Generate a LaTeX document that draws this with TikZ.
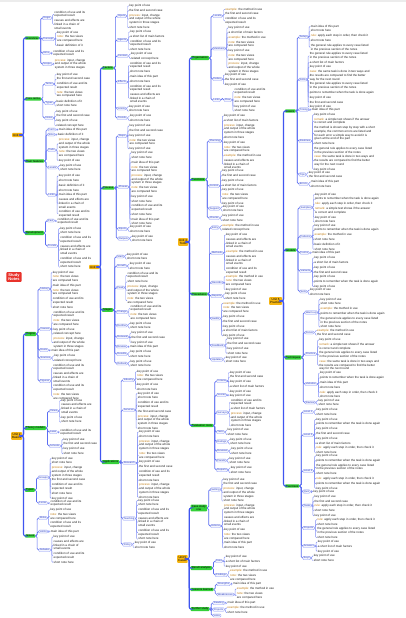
\documentclass[tikz,border=0pt]{standalone}
\usepackage{fontspec}
\setmainfont{Liberation Sans}
\definecolor{mmred}{HTML}{E8322B}
\definecolor{mmorange}{HTML}{F5B511}
\definecolor{mmgreen}{HTML}{35D03A}
\definecolor{mmblue}{HTML}{3F55F0}
\definecolor{mmtext}{HTML}{1E1E1E}
\definecolor{mmhl}{HTML}{C07A10}

% leaf phrases (odd / even lines)
\newcommand\mmta{key point of use}
\newcommand\mmtax{short note here}
\newcommand\mmtb{basic definition of it}
\newcommand\mmtbx{related concept here}
\newcommand\mmtc{main idea of this part}
\newcommand\mmtcx{the first and second case}
\newcommand\mmtd{\textcolor{mmhl}{example:} the method in use}
\newcommand\mmtdx{a short list of main factors}
\newcommand\mmth{\textcolor{mmhl}{rule:} apply each step in order, then check it}
\newcommand\mmthx{points to remember when the task is done again}
\newcommand\mmte{condition of use and its\\expected result}
\newcommand\mmtex{\textcolor{mmhl}{note:} the two views\\are compared here}
\newcommand\mmtf{\textcolor{mmhl}{process:} input, change\\and output of the whole\\system in three stages}
\newcommand\mmtfx{causes and effects are\\linked in a chain of\\small events}
\newcommand\mmtg{comparison of two methods\\with their strong points\\and their weak points\\in daily practice}
\newcommand\mmtgx{\textcolor{mmhl}{summary:} the key ideas\\of the unit, the terms\\and the worked examples\\for review}
\newcommand\mmtE{the general rule applies to every case listed\\in the previous section of the notes}
\newcommand\mmtEx{\textcolor{mmhl}{remark:} a simple test shows if the answer\\is correct and complete}
\newcommand\mmtF{each stage has its own aim, its own tools and\\its own way to measure the result, so the\\stages are planned one after the other}
\newcommand\mmtFx{\textcolor{mmhl}{case:} the same task is done in two ways and\\the results are compared to find the better\\way for the next round}
\newcommand\mmtG{the method is shown step by step with a short\\example, the common errors are listed and\\for each error a simple way to avoid it is\\given at the end of the part}
\newcommand\mmtGx{\textcolor{mmhl}{review:} the main terms, the rules and the\\worked examples of the unit are put together\\in one list that can be used before the test\\and again after it}

% ---- mind map helpers ------------------------------------------
\newcommand\mmgreen[4]{%
  \path (#1.east) ++(2.5,0) coordinate (#2-at);
  \node[subtopic] (#2) at (#2-at |- 0,#3) {#4};
  \draw[bough] (#1.east) -- ++(1.3,0) |- (#2.west);}
\newcommand\mmbox[4]{%
  \path (#1.east) ++(3,0) coordinate (#2-at);
  \node[itembox] (#2) at (#2-at |- 0,#3) {#4};
  \draw[limb] (#1.east) -- ++(1.5,0) |- (#2.west);}
\newcommand\mmleaves[3]{%
  \path (#1.east) ++(2.5,0) coordinate (#1-lx);
  \node[inner sep=0pt,minimum size=0pt,anchor=south west] (#1-0) at (#1-lx |- 0,#2) {};
  \foreach \kk [count=\i] in {#3} {
    \pgfmathtruncatemacro\j{\i-1}
    \node[leaf] (#1-\i) at (#1-\j.south west)
      {\strut\csname mmt\kk\ifodd\i\space\else x\fi\endcsname\strut};
    \draw[twig] (#1.east) -- ++(1.2,0) |- (#1-\i.west);
  }}

\begin{document}
\begin{tikzpicture}[x=1pt,y=-1pt,
  rootnode/.style={fill=mmred,text=white,font=\fontsize{4}{4.6}\selectfont\bfseries,
                   inner xsep=2pt,inner ysep=1.2pt,align=center,rounded corners=1pt},
  topic/.style={fill=mmorange,anchor=west,font=\fontsize{3}{3.5}\selectfont,
                inner sep=1pt,align=center,rounded corners=0.8pt},
  subtopic/.style={fill=mmgreen,anchor=west,font=\fontsize{2.8}{3.3}\selectfont,
                   inner xsep=1.2pt,inner ysep=0.7pt,align=center,rounded corners=0.8pt},
  itembox/.style={draw=mmblue!60,fill=mmblue!6,line width=0.35pt,anchor=west,
                  font=\fontsize{2.6}{3}\selectfont,text=mmblue!80!black,
                  inner xsep=1pt,inner ysep=0.6pt,rounded corners=1pt},
  leaf/.style={anchor=north west,font=\fontsize{3}{3.7}\selectfont,text=mmtext,
               inner xsep=0.3pt,inner ysep=0.35pt,align=left},
  bough/.style={draw=mmblue,line width=1.1pt,rounded corners=2pt},
  limb/.style={draw=mmblue!85,line width=0.7pt,rounded corners=1.5pt},
  twig/.style={draw=mmblue!65,line width=0.45pt,rounded corners=1pt}
]
  \useasboundingbox (0,0) rectangle (406,618);
  \fill[white] (0,0) rectangle (406,618);
  \fill[gray!15] (0,0) rectangle (406,2.5);

  % ---- Root ---------------------------------------------------------
  \node[rootnode] (root) at (14,277) {Study\\Notes};

  % ---- Unit 1 -------------------------------------------------------
  \node[topic] (u1) at (12,135) {Unit 1};
  \mmgreen{u1}{g11}{38}{Overview}
  \mmbox{g11}{b111}{18}{Origin}     \mmleaves{b111}{10}{e,f}
  \mmbox{g11}{b112}{39}{Concept}    \mmleaves{b112}{30}{a,e,b}
  \mmbox{g11}{b113}{53}{Aims}       \mmleaves{b113}{49}{e}
  \mmbox{g11}{b114}{64}{Scope}      \mmleaves{b114}{58}{f}
  \mmgreen{u1}{g12}{99}{Core terms}
  \mmbox{g12}{b121}{84}{Terms}      \mmleaves{b121}{72}{a,c,e,e}
  \mmbox{g12}{b122}{103}{Types}     \mmleaves{b122}{99}{b,a}
  \mmbox{g12}{b123}{118}{Notes}     \mmleaves{b123}{109}{a,c,a,b}
  \mmgreen{u1}{g13}{161}{Main features}
  \mmbox{g13}{b131}{129.5}{Form}    \mmleaves{b131}{127.5}{c}
  \mmbox{g13}{b132}{134.5}{Size}    \mmleaves{b132}{132.3}{b}
  \mmbox{g13}{b133}{150}{Parts}     \mmleaves{b133}{137.5}{f,e,a}
  \mmbox{g13}{b134}{167.5}{Levels}  \mmleaves{b134}{163}{a,a}
  \mmbox{g13}{b135}{195}{Links}     \mmleaves{b135}{173.5}{a,a,b,a,c,f,e}
  \mmgreen{u1}{g14}{233}{Development}
  \mmbox{g14}{b141}{220.5}{Past}    \mmleaves{b141}{217}{e}
  \mmbox{g14}{b142}{246}{Trends}    \mmleaves{b142}{226}{a,a,e,f,e,a}

  % ---- Unit 2 -------------------------------------------------------
  \node[topic] (u2) at (11,436) {Unit 2\\Basics};
  \mmgreen{u2}{g21}{334}{Origins}
  \mmbox{g21}{b211}{289}{History}   \mmleaves{b211}{270}{a,e,c,e,e,a}
  \mmbox{g21}{b212}{329}{Causes}    \mmleaves{b212}{310}{e,e,a,b,f}
  \mmbox{g21}{b213}{350}{Roots}     \mmleaves{b213}{348}{c}
  \mmbox{g21}{b214}{358}{Sources}   \mmleaves{b214}{353.5}{a,b}
  \mmbox{g21}{b215}{381}{Figures}   \mmleaves{b215}{363}{e,f,e,e}
  \mmgreen{u2}{g22}{428}{Theory models}
  \mmbox{g22}{b221}{411}{Views}     \mmleaves{b221}{398}{a,f,a,a}
  \mmbox{g22}{b222}{432}{Laws}      \mmleaves{b222}{428}{e}
  \mmbox{g22}{b223}{446}{Schools}   \mmleaves{b223}{437}{a,c,a,a}
  \mmgreen{u2}{g23}{490}{Types}
  \mmbox{g23}{b231}{477.5}{Groups}  \mmleaves{b231}{456}{a,a,f,c,e,a,a}
  \mmbox{g23}{b232}{503}{Forms}     \mmleaves{b232}{499}{e}
  \mmgreen{u2}{g24}{536}{Issues}
  \mmbox{g24}{b241}{518}{Risks}     \mmleaves{b241}{507.5}{a,e,e}
  \mmbox{g24}{b242}{531.5}{Limits}  \mmleaves{b242}{529.2}{c}
  \mmbox{g24}{b243}{550}{Debates}   \mmleaves{b243}{534.5}{a,f,e,a}

  % ---- Unit 3 -------------------------------------------------------
  \node[topic] (u3) at (89,267) {Unit 3};
  \mmgreen{u3}{g31}{68}{Factors}
  \mmbox{g31}{b311}{16}{Inputs}     \mmleaves{b311}{3.5}{a,c,f,a}
  \mmbox{g31}{b312}{40}{Agents}     \mmleaves{b312}{29.5}{a,d,e,a}
  \mmbox{g31}{b313}{56}{Context}    \mmleaves{b313}{51.5}{a,b}
  \mmbox{g31}{b314}{82}{Effects}    \mmleaves{b314}{61}{e,a,c,a,e,f}
  \mmbox{g31}{b315}{108.5}{Limits}  \mmleaves{b315}{104}{a,a}
  \mmbox{g31}{b316}{118}{Trends}    \mmleaves{b316}{113.5}{a,a}
  \mmgreen{u3}{g32}{188}{Process}
  \mmbox{g32}{b321}{136}{Steps}     \mmleaves{b321}{123.5}{a,c,a,e,a}
  \mmbox{g32}{b322}{187}{Phases}    \mmleaves{b322}{150.5}{a,a,c,e,f,e,a,a,e,a,c,a}
  \mmbox{g32}{b323}{229}{Inputs}    \mmleaves{b323}{224.5}{a,a}
  \mmbox{g32}{b324}{238.5}{Outputs} \mmleaves{b324}{234}{a,a}
  \mmgreen{u3}{g33}{310}{Stages}
  \mmbox{g33}{b331}{256.5}{Start}   \mmleaves{b331}{252}{a,a}
  \mmbox{g33}{b332}{266}{Growth}    \mmleaves{b332}{261.5}{a,a}
  \mmbox{g33}{b333}{287.5}{Peak}    \mmleaves{b333}{271}{e,a,f,e}
  \mmbox{g33}{b334}{312}{Change}    \mmleaves{b334}{304}{e,e}
  \mmbox{g33}{b335}{325.5}{Decline} \mmleaves{b335}{321}{a,a}
  \mmbox{g33}{b336}{337}{Renewal}   \mmleaves{b336}{330.5}{a,c,a}
  \mmbox{g33}{b337}{346.5}{Review}  \mmleaves{b337}{344.5}{c}
  \mmbox{g33}{b338}{354}{Results}   \mmleaves{b338}{349.5}{a,a}
  \mmbox{g33}{b339}{363.5}{Outlook} \mmleaves{b339}{359}{a,a}
  \mmgreen{u3}{g34}{462}{Applications}
  \mmbox{g34}{b341}{380}{Industry}  \mmleaves{b341}{369}{a,e,a,a}
  \mmbox{g34}{b342}{410}{Services}  \mmleaves{b342}{391}{a,a,e,c,f,a}
  \mmbox{g34}{b343}{463}{Research}  \mmleaves{b343}{429.5}{a,a,f,e,a,c,e,a,f,a}
  \mmbox{g34}{b344}{518.5}{Teaching}\mmleaves{b344}{498}{a,a,e,f,e,a}
  \mmbox{g34}{b345}{544.5}{Policy}  \mmleaves{b345}{540.5}{a,a}

  % ---- Unit 4 -------------------------------------------------------
  \node[topic] (u4) at (178,242) {Unit 4\\Tools};
  \mmgreen{u4}{g41}{58}{Organisation}
  \mmbox{g41}{b411}{16}{Levels}     \mmleaves{b411}{7}{d,c,e}
  \mmbox{g41}{b412}{48.5}{Members}  \mmleaves{b412}{25.5}{a,d,d,e,a,e,f}
  \mmbox{g41}{b413}{79}{Duties}     \mmleaves{b413}{72.5}{a,c,a}
  \mmbox{g41}{b414}{100}{Links}
  \mmbox{b414}{b4141}{100}{Flow}    \mmleaves{b4141}{87}{e,e,a,a}
  \mmgreen{u4}{g42}{179.5}{Functions}
  \mmbox{g42}{b421}{141}{Planning}  \mmleaves{b421}{113.5}{a,d,f,a,a,e,d,f}
  \mmbox{g42}{b422}{186}{Control}   \mmleaves{b422}{168.5}{a,c,a,d,a,e,a}
  \mmbox{g42}{b423}{208.5}{Support} \mmleaves{b423}{204}{a,a}
  \mmbox{g42}{b424}{218}{Checks}    \mmleaves{b424}{213.5}{a,a}
  \mmgreen{u4}{g43}{294}{Procedures}
  \mmbox{g43}{b431}{227.5}{Entry}   \mmleaves{b431}{223}{d,b}
  \mmbox{g43}{b432}{253}{Methods}   \mmleaves{b432}{232.5}{a,f,d,f,e}
  \mmbox{g43}{b433}{282.5}{Records} \mmleaves{b433}{274}{d,e,a}
  \mmbox{g43}{b434}{296}{Reports}   \mmleaves{b434}{291.5}{a,a}
  \mmbox{g43}{b435}{318.5}{Audits}  \mmleaves{b435}{301}{d,e,a,c,a,d,a}
  \mmbox{g43}{b436}{345.5}{Feedback}\mmleaves{b436}{336.5}{a,c,a,a}
  \mmbox{g43}{b437}{359.5}{Updates} \mmleaves{b437}{355}{a,a}
  \mmgreen{u4}{g44}{425.5}{Evaluation tools}
  \mmbox{g44}{b441}{381}{Criteria}  \mmleaves{b441}{370}{a,c,a,d,a}
  \mmbox{g44}{b442}{395}{Scores}    \mmleaves{b442}{393}{a}
  \mmbox{g44}{b443}{412.5}{Surveys} \mmleaves{b443}{398}{e,d,f,a}
  \mmbox{g44}{b444}{432}{Tests}     \mmleaves{b444}{427.5}{a,a}
  \mmbox{g44}{b445}{441.5}{Ratings} \mmleaves{b445}{437}{a,a}
  \mmbox{g44}{b446}{451}{Reviews}   \mmleaves{b446}{446.5}{a,a}
  \mmbox{g44}{b447}{460.5}{Panels}  \mmleaves{b447}{456}{a,a}
  \mmbox{g44}{b448}{470}{Reports}   \mmleaves{b448}{465.5}{a,a}

  % ---- Unit 5 -------------------------------------------------------
  \node[topic] (u5) at (177,559) {Unit 5\\Cases};
  \mmgreen{u5}{g51}{508}{Case study\\one}
  \mmbox{g51}{b511}{489.5}{Setting} \mmleaves{b511}{477}{a,c,f,a}
  \mmbox{g51}{b512}{526}{Actions}   \mmleaves{b512}{503}{f,f,a,e,c,a}
  \mmgreen{u5}{g52}{568}{Result analysis}
  \mmbox{g52}{b521}{561}{Data}      \mmleaves{b521}{554.5}{a,d,a}
  \mmbox{g52}{b522}{575}{Findings}  \mmleaves{b522}{568.5}{d,e}
  \mmgreen{u5}{g53}{589.5}{Lessons learned}
  \mmbox{g53}{b531}{584}{Strengths} \mmleaves{b531}{581.7}{c}
  \mmbox{g53}{b532}{594.5}{Weaknesses}\mmleaves{b532}{586.5}{d,e}
  \mmgreen{u5}{g54}{609}{Further study}
  \mmbox{g54}{b541}{603}{Reading}   \mmleaves{b541}{600.5}{c}
  \mmbox{g54}{b542}{609.5}{Projects}\mmleaves{b542}{605.5}{d,a}
  \mmbox{g54}{b543}{615.5}{Links}

  % ---- Unit 6 -------------------------------------------------------
  \node[topic] (u6) at (269,301) {Unit 6\\Practice};
  \mmgreen{u6}{g61}{111}{Basics}
  \mmbox{g61}{b611}{37}{Setup}      \mmleaves{b611}{24}{c,a,h,a,E}
  \mmbox{g61}{b612}{79.5}{Drills}   \mmleaves{b612}{51.5}{E,d,a,F,E,h,a,c,a}
  \mmbox{g61}{b613}{109.5}{Timing}  \mmleaves{b613}{107.3}{c}
  \mmbox{g61}{b614}{141}{Routines}  \mmleaves{b614}{112.2}{a,E,G,a,E,F,a}
  \mmbox{g61}{b615}{174.5}{Tips}    \mmleaves{b615}{170}{a,c}
  \mmbox{g61}{b616}{184}{Errors}    \mmleaves{b616}{179.5}{c,a}
  \mmgreen{u6}{g62}{250}{Models}
  \mmbox{g62}{b621}{207.5}{Samples} \mmleaves{b621}{192}{a,h,h,E,a,a}
  \mmbox{g62}{b622}{236.5}{Patterns}\mmleaves{b622}{223}{a,h,d,a,b,a}
  \mmbox{g62}{b623}{252.7}{Forms}   \mmleaves{b623}{250.5}{c}
  \mmbox{g62}{b624}{271}{Variants}  \mmleaves{b624}{255.5}{a,d,a,c,a,h,a}
  \mmbox{g62}{b625}{291.5}{Sets}    \mmleaves{b625}{287.5}{a,a}
  \mmgreen{u6}{g63}{357.5}{Techniques}
  \mmbox{g63}{b631}{312.5}{Warm-up} \mmleaves{b631}{297}{a,a,d,h,E,a}
  \mmbox{g63}{b632}{332.5}{Focus}   \mmleaves{b632}{328}{d,c}
  \mmbox{g63}{b633}{354}{Practice}  \mmleaves{b633}{337.5}{a,E,E,F}
  \mmbox{g63}{b634}{384}{Variation} \mmleaves{b634}{370.7}{a,h,c,a,h,a}
  \mmbox{g63}{b635}{402.5}{Review}  \mmleaves{b635}{398}{a,a}
  \mmgreen{u6}{g64}{486}{Exercises}
  \mmbox{g64}{b641}{412}{Level 1}   \mmleaves{b641}{407.5}{a,a}
  \mmbox{g64}{b642}{435}{Level 2}   \mmleaves{b642}{417}{a,h,a,c,a,d,h,a}
  \mmbox{g64}{b643}{471}{Level 3}   \mmleaves{b643}{453.5}{a,h,E,a,h,h,a}
  \mmbox{g64}{b644}{491.5}{Quiz}    \mmleaves{b644}{489.2}{a}
  \mmbox{g64}{b645}{505.5}{Tasks}   \mmleaves{b645}{494.2}{a,c,h,a,a}
  \mmbox{g64}{b646}{528}{Projects}  \mmleaves{b646}{517.2}{h,a,E,a}
  \mmbox{g64}{b647}{546}{Answers}   \mmleaves{b647}{539.4}{a,d,a}
  \mmbox{g64}{b648}{558}{Keys}      \mmleaves{b648}{553.4}{a,a}

\end{tikzpicture}
\end{document}
